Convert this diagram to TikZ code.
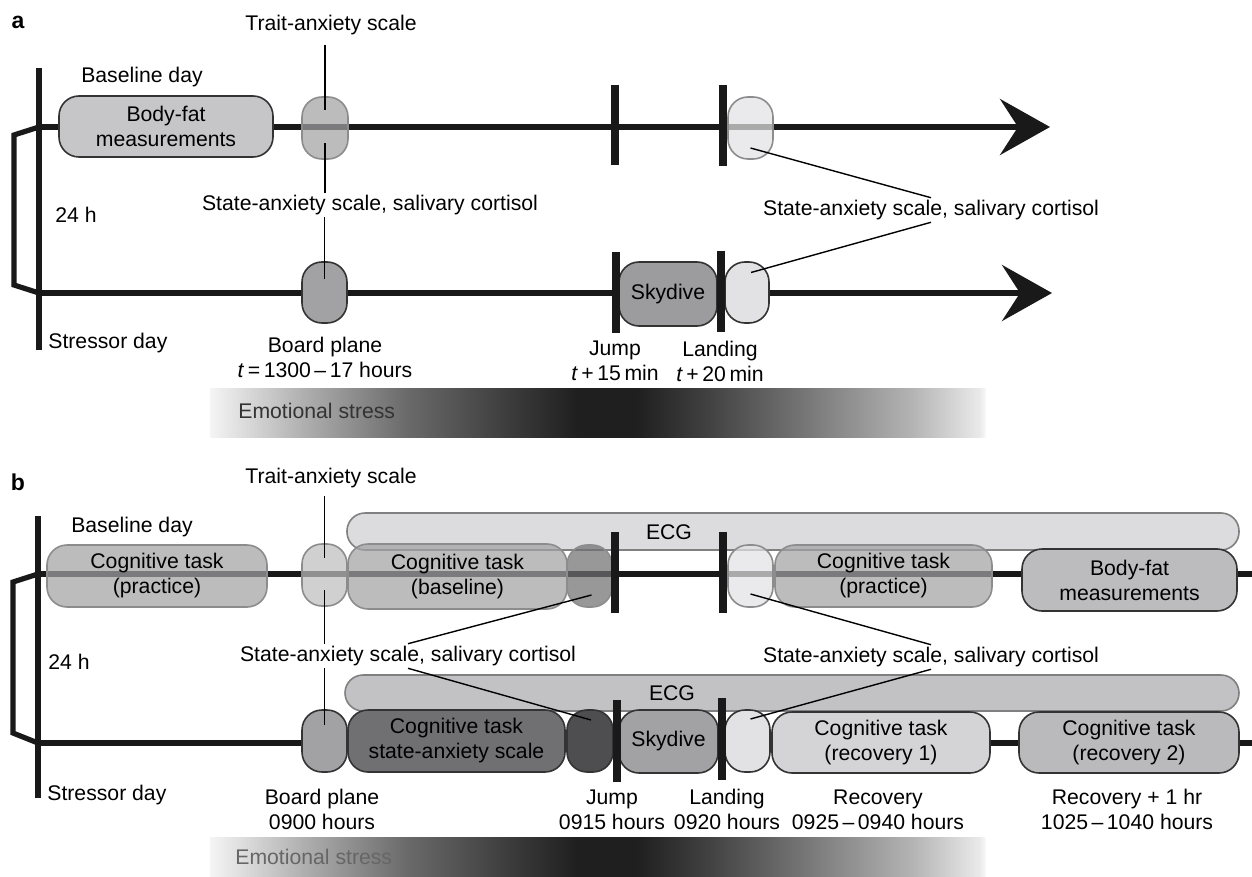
\documentclass[tikz,border=0pt]{standalone}
\usepackage{fontspec}
\setmainfont{Liberation Sans}
\usetikzlibrary{positioning,arrows.meta,calc}

\definecolor{fatgray}{HTML}{C6C6C8}
\definecolor{fatbgray}{HTML}{BCBCBE}
\definecolor{midgray}{HTML}{A2A2A4}
\definecolor{skygray}{HTML}{9C9C9E}
\definecolor{deepgray}{HTML}{707072}
\definecolor{inkgray}{HTML}{4E4E50}
\definecolor{palegray}{HTML}{E2E2E4}
\definecolor{ecglight}{HTML}{DCDCDE}
\definecolor{ecgdark}{HTML}{C2C2C4}
\definecolor{recgray}{HTML}{D4D4D6}
\definecolor{rectwogray}{HTML}{BABABC}

% stops of the emotional-stress gradient: x in px / percent black
\newcommand{\stressstops}{210/4/302/31, 302/31/404/58, 404/58/506/76, 506/76/578/88, 578/88/635/88, 635/88/710/74, 710/74/812/52, 812/52/914/29, 914/29/980/8, 980/8/985/2}

\begin{document}
\begin{tikzpicture}[
  x=0.5pt, y=-0.5pt,
  font=\fontsize{10.6}{12.5}\selectfont,
  lbl/.style={inner sep=1pt, align=center},
  tag/.style={inner sep=0pt, font=\fontsize{11.5}{12}\selectfont\bfseries},
  sz/.style 2 args={minimum width=#1*0.5pt, minimum height=#2*0.5pt},
  box/.style={draw=black!80, line width=0.8pt, rounded corners=10pt, align=center, inner sep=0pt},
  glass/.style={box, draw=black!45, fill opacity=0.72, text opacity=1},
  ecg/.style={draw=black!50, line width=0.8pt, rounded corners=9pt, inner sep=0pt},
  tline/.style={line width=2.6pt, black!90},
  bar/.style={line width=3.4pt, black!90},
  tick/.style={line width=3.6pt, black!90},
  lead/.style={line width=0.7pt},
  >={Stealth[length=25pt, width=28pt, inset=9pt]},
]
\useasboundingbox (0,0) rectangle (1252,877);

% ---------------- Panel a ----------------
\node[tag] (tagA) at (18,22) {a};

\coordinate (aBarTop) at (39,68);
\coordinate (aBarBot) at (39,350);
\coordinate (aDay1) at (39,127);
\coordinate (aDay2) at (39,293);
\coordinate (aEnd1) at (1050,127);
\coordinate (aEnd2) at (1052,293);

% timelines
\draw[bar] (aBarTop) -- (aBarBot);
\draw[tline] (aDay1) -- ++(-25,8) -- ++(0,150) -- (aDay2);
\draw[tline, ->] (aDay1) -- (aEnd1);
\draw[tline, ->] (aDay2) -- (aEnd2);

% boxes on the timelines
\node[box, fill=fatgray, sz={214}{61}] (fatA) at (166,126.5) {Body-fat\\measurements};
\node[glass, fill=midgray, sz={46}{62}] (traitA) at (325,128) {};
\node[glass, fill=palegray, sz={45}{62}] (landA1) at (750.5,128) {};
\node[box, fill=midgray, sz={45}{61}] (boardA) at (324.5,292.5) {};
\node[box, fill=skygray, sz={98}{64}] (skyA) at (668,294) {Skydive};
\node[box, fill=palegray, sz={44}{61}] (landA2) at (747,292.5) {};

% jump / landing marks
\draw[tick] (615,85) -- (615,165);
\draw[tick] (723,85) -- (723,166);
\draw[tick] (616,252) -- (616,333);
\draw[tick] (721,251) -- (721,332);

% labels
\node[lbl] (baseA) at (142,77) {Baseline day};
\node[lbl] (hrsA) at (76,215) {24 h};
\node[lbl, anchor=west] (stressorA) at (46,343) {Stressor day};
\node[lbl] (traitAlbl) at (331,25) {Trait-anxiety scale};
\node[lbl] (stateAL) at (370,205) {State-anxiety scale, salivary cortisol};
\node[lbl] (stateAR) at (931,210) {State-anxiety scale, salivary cortisol};
\node[lbl] (boardAlbl) at (325,357.5) {Board plane\\\textit{t}\,=\,1300\,–\,17 hours};
\node[lbl] (jumpA) at (615,361) {Jump\\\textit{t}\,+\,15\,min};
\node[lbl] (landAlbl) at (720,361) {Landing\\\textit{t}\,+\,20\,min};

% leaders
\draw[lead] ($(traitA.center)+(0,-18)$) -- ($(traitAlbl.south -| traitA.center)+(0,8)$);
\draw[lead] ($(traitA.center)+(0,15)$) -- (stateAL.north -| traitA.center);
\draw[lead] (stateAL.south -| boardA.center) -- ($(boardA.center)+(0,-14)$);
\draw[lead] ($(landA1.center)+(0,20)$) -- (stateAR.north);
\draw[lead] (stateAR.south) -- ($(landA2.center)+(4,-20)$);

% emotional stress
\foreach \xa/\ca/\xb/\cb in \stressstops
  \shade[left color=black!\ca, right color=black!\cb] (\xa,388) rectangle (\xb+0.8,437);
\node[lbl, anchor=west, text=black!80] (stressAtxt) at (236,411) {Emotional stress};

% ---------------- Panel b ----------------
\node[tag] (tagB) at (18,482) {b};

\coordinate (bBarTop) at (38,516);
\coordinate (bBarBot) at (38,798);
\coordinate (bDay1) at (38,574);
\coordinate (bDay2) at (38,743);
\coordinate (bEnd1) at (1252,574);
\coordinate (bEnd2) at (1252,743);

% ECG recordings
\node[ecg, fill=ecglight, sz={892}{37}] (ecgB1) at (793,531.5) {};
\node[ecg, fill=ecgdark, sz={894}{36}] (ecgB2) at (792,693) {};
\node[lbl] (ecgB1lbl) at (669,532) {ECG};
\node[lbl] (ecgB2lbl) at (672,693) {ECG};

% timelines
\draw[bar] (bBarTop) -- (bBarBot);
\draw[tline] (bDay1) -- ++(-25,8) -- ++(0,151) -- (bDay2);
\draw[tline] (bDay1) -- (bEnd1);
\draw[tline] (bDay2) -- (bEnd2);

% baseline day boxes
\node[glass, fill=midgray, sz={220}{62}] (practiceB1) at (157,576) {Cognitive task\\(practice)};
\node[glass, fill=midgray!70, sz={45}{62}] (traitB) at (324.5,575) {};
\node[glass, fill=midgray, sz={219}{65}] (baselineB) at (457.5,576.5) {Cognitive task\\(baseline)};
\node[glass, fill=deepgray, sz={45}{62}] (darkB1) at (589.5,576) {};
\node[glass, fill=palegray, sz={45}{62}] (landB1) at (750.5,576) {};
\node[glass, fill=midgray, sz={217}{62}] (practiceB2) at (883.5,576) {Cognitive task\\(practice)};
\node[box, fill=fatbgray, sz={215}{62}] (fatB) at (1129.5,580) {Body-fat\\measurements};

% stressor day boxes
\node[box, fill=midgray, sz={45}{62}] (boardB) at (324.5,741) {};
\node[box, fill=deepgray, sz={217}{62}] (cogStateB) at (456.5,741) {Cognitive task\\state-anxiety scale};
\node[box, fill=inkgray, sz={46}{62}] (darkB2) at (590,741) {};
\node[box, fill=midgray, sz={99}{63}] (skyB) at (668.5,741.5) {Skydive};
\node[box, fill=palegray, sz={45}{62}] (landB2) at (747.5,741) {};
\node[box, fill=recgray, sz={218}{61}] (recB1) at (881,742.5) {Cognitive task\\(recovery 1)};
\node[box, fill=rectwogray, sz={220}{61}] (recB2) at (1129,742.5) {Cognitive task\\(recovery 2)};

% jump / landing marks
\draw[tick] (615,532) -- (615,613);
\draw[tick] (723,532) -- (723,613);
\draw[tick] (617,700) -- (617,782);
\draw[tick] (722,698) -- (722,780);

% labels
\node[lbl] (baseB) at (132,527) {Baseline day};
\node[lbl] (hrsB) at (69,662) {24 h};
\node[lbl, anchor=west] (stressorB) at (45,795) {Stressor day};
\node[lbl] (traitBlbl) at (331,478) {Trait-anxiety scale};
\node[lbl] (stateBL) at (408,656) {State-anxiety scale, salivary cortisol};
\node[lbl] (stateBR) at (931,657) {State-anxiety scale, salivary cortisol};
\node[lbl] (boardBlbl) at (322,809.5) {Board plane\\0900 hours};
\node[lbl] (jumpB) at (612,809.5) {Jump\\0915 hours};
\node[lbl] (landBlbl) at (727,809.5) {Landing\\0920 hours};
\node[lbl] (recB1lbl) at (878,809.5) {Recovery\\0925\,–\,0940 hours};
\node[lbl] (recB2lbl) at (1127,809.5) {Recovery + 1 hr\\1025\,–\,1040 hours};

% leaders
\draw[lead] ($(traitB.center)+(0,-17)$) -- ($(traitBlbl.south -| traitB.center)+(0,6)$);
\draw[lead] ($(traitB.center)+(0,15)$) -- (stateBL.north -| traitB.center);
\draw[lead] (stateBL.south -| boardB.center) -- ($(boardB.center)+(0,-16)$);
\draw[lead] ($(darkB1.center)+(2,19)$) -- (stateBL.north);
\draw[lead] (stateBL.south) -- ($(darkB2.center)+(1,-21)$);
\draw[lead] ($(landB1.center)+(0,18)$) -- (stateBR.north);
\draw[lead] (stateBR.south) -- ($(landB2.center)+(3,-22)$);

% emotional stress
\foreach \xa/\ca/\xb/\cb in \stressstops
  \shade[left color=black!\ca, right color=black!\cb] (\xa,837) rectangle (\xb+0.8,877);
\node[lbl, anchor=west, text=black!60] (stressBtxt) at (233,857) {Emotional stress};

\end{tikzpicture}
\end{document}
